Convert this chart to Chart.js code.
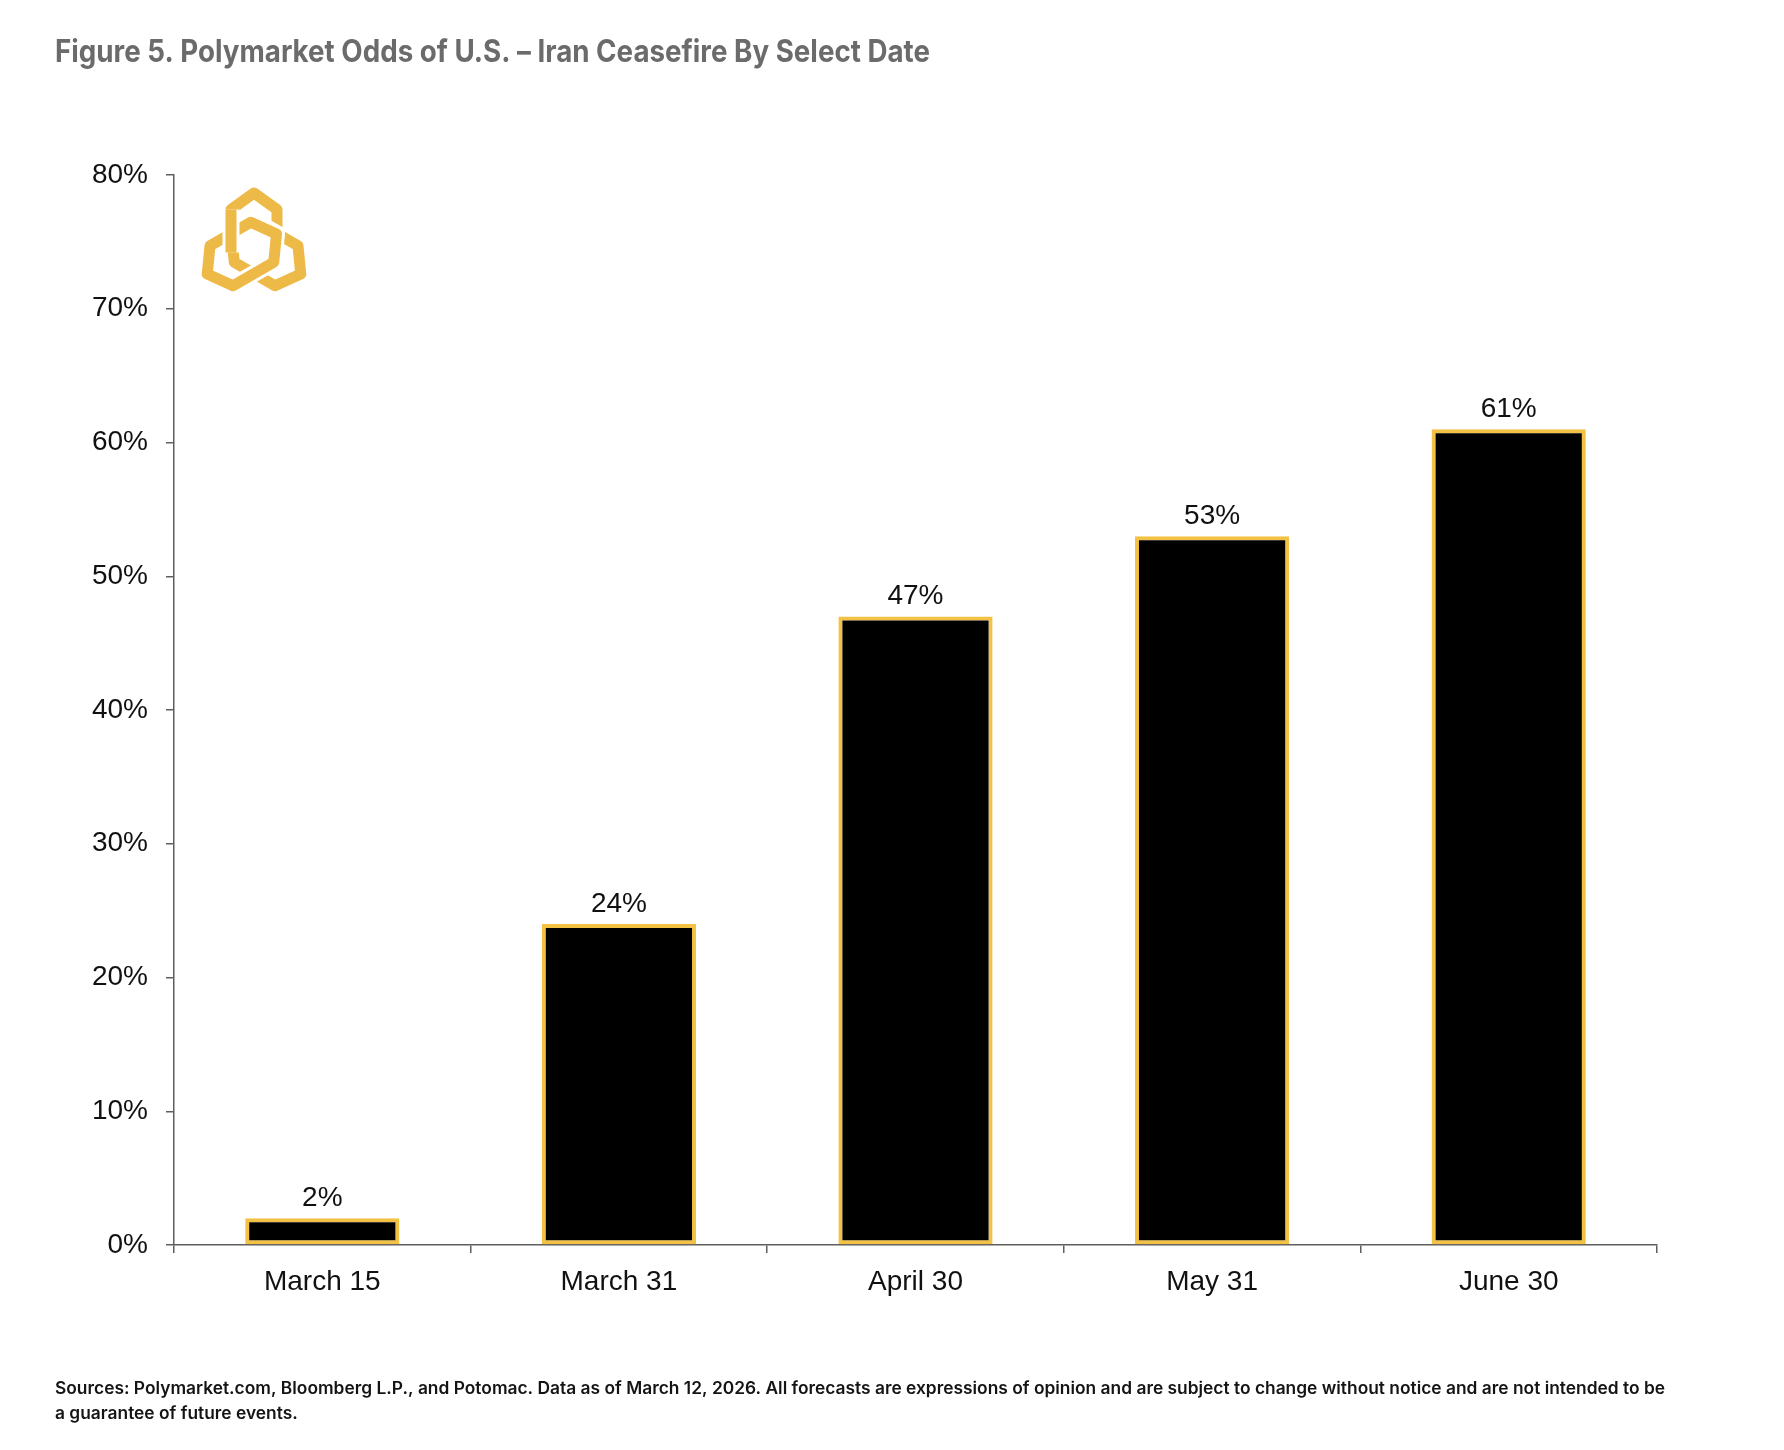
<!DOCTYPE html>
<html>
<head>
<meta charset="utf-8">
<script src="https://cdn.jsdelivr.net/npm/chart.js@4/dist/chart.umd.min.js"></script>
<style>
  html, body { margin: 0; padding: 0; background: #fff; }
  #wrap { position: relative; width: 1784px; height: 1450px; }
</style>
</head>
<body>
<div id="wrap"><canvas id="myChart" width="1784" height="1450"></canvas></div>
<script>
// data
const dates = ['March 15', 'March 31', 'April 30', 'May 31', 'June 30'];
const odds = [2, 24, 47, 53, 61];
const yTicks = [0, 10, 20, 30, 40, 50, 60, 70, 80];

const title = 'Figure 5. Polymarket Odds of U.S. \u2013 Iran Ceasefire By Select Date';
const footer1 = 'Sources: Polymarket.com, Bloomberg L.P., and Potomac. Data as of March 12, 2026. All forecasts are expressions of opinion and are subject to change without notice and are not intended to be';
const footer2 = 'a guarantee of future events.';

const gold = '#F3C143';
const logoGold = '#EDB947';
const axisGrey = '#5f5f5f';

// title, footer and logo
const extras = {
  id: 'extras',
  afterDraw(chart) {
    const ctx = chart.ctx;
    ctx.save();
    // title
    ctx.fillStyle = '#6b6b6b';
    ctx.font = '700 31px Inter';
    ctx.textBaseline = 'alphabetic';
    let w = ctx.measureText(title).width;
    let sx = 875 / w;
    ctx.save();
    ctx.translate(55, 62);
    ctx.scale(sx, 1);
    ctx.fillText(title, 0, 0);
    ctx.restore();

    // footer
    ctx.fillStyle = '#141414';
    ctx.font = '600 17px Inter';
    w = ctx.measureText(footer1).width;
    sx = 1610 / w;
    ctx.save();
    ctx.translate(55, 1394);
    ctx.scale(sx, 1);
    ctx.fillText(footer1, 0, 0);
    ctx.fillText(footer2, 0, 25);
    ctx.restore();

    // logo: three elongated hexagons rotated around a centre
    const cx = 254, cy = 247, d = 14, L = 40, W = 23, s = 16.5;
    const hex = () => {
      ctx.beginPath();
      ctx.moveTo(0, -d - L);
      ctx.lineTo(W, -d - L + s);
      ctx.lineTo(W, -d + L - s);
      ctx.lineTo(0, -d + L);
      ctx.lineTo(-W, -d + L - s);
      ctx.lineTo(-W, -d - L + s);
      ctx.closePath();
    };
    ctx.lineJoin = 'round';
    for (let k = 0; k < 3; k++) {
      ctx.save();
      ctx.translate(cx, cy);
      ctx.rotate(k * 2 * Math.PI / 3);
      hex();
      ctx.strokeStyle = '#fff';
      ctx.lineWidth = 17;
      ctx.stroke();
      ctx.strokeStyle = logoGold;
      ctx.lineWidth = 11;
      ctx.stroke();
      ctx.restore();
    }
    // weave: bring the left arm of the first shape back on top
    ctx.save();
    ctx.translate(cx, cy);
    ctx.beginPath();
    ctx.moveTo(-W, -d - L + s);
    ctx.lineTo(-W, -d + L - s - 4);
    ctx.strokeStyle = '#fff';
    ctx.lineWidth = 17;
    ctx.lineCap = 'butt';
    ctx.stroke();
    ctx.strokeStyle = logoGold;
    ctx.lineWidth = 11;
    ctx.stroke();
    ctx.restore();

    ctx.restore();
  }
};

// value labels above the bars
const barLabels = {
  id: 'barLabels',
  afterDatasetsDraw(chart) {
    const ctx = chart.ctx;
    const meta = chart.getDatasetMeta(0);
    ctx.save();
    ctx.fillStyle = '#111';
    ctx.font = '28px "Liberation Sans", Arial';
    ctx.textAlign = 'center';
    ctx.textBaseline = 'alphabetic';
    meta.data.forEach((bar, i) => {
      ctx.fillText(odds[i] + '%', bar.x, bar.y - 12);
    });
    ctx.restore();
  }
};

const data = {
  labels: dates,
  datasets: [{
    data: odds,
    backgroundColor: '#000',
    borderColor: gold,
    borderWidth: 4,
    borderSkipped: false,
    barPercentage: 0.52,
    categoryPercentage: 1
  }]
};

const config = {
  type: 'bar',
  data: data,
  options: {
    responsive: false,
    animation: false,
    layout: { padding: { left: 0, right: 127, top: 175, bottom: 0 } },
    plugins: {
      legend: { display: false },
      tooltip: { enabled: false }
    },
    scales: {
      y: {
        min: 0,
        max: 80,
        afterFit: (scale) => { scale.width = 174; },
        afterBuildTicks: (scale) => { scale.ticks = yTicks.map(v => ({ value: v })); },
        ticks: {
          callback: (v) => v + '%',
          color: '#111',
          padding: 18,
          font: { family: '"Liberation Sans", Arial', size: 28 }
        },
        grid: {
          drawOnChartArea: false,
          tickLength: 8,
          color: axisGrey,
          lineWidth: 1.5
        },
        border: { display: true, color: axisGrey, width: 1.5 }
      },
      x: {
        afterFit: (scale) => { scale.height = 205; },
        ticks: {
          color: '#111',
          padding: 12,
          maxRotation: 0,
          autoSkip: false,
          font: { family: '"Liberation Sans", Arial', size: 28 }
        },
        grid: {
          offset: true,
          drawOnChartArea: false,
          tickLength: 8,
          color: axisGrey,
          lineWidth: 1.5
        },
        border: { display: true, color: axisGrey, width: 1.5 }
      }
    }
  },
  plugins: [barLabels, extras]
};

const myChart = new Chart(document.getElementById('myChart'), config);
</script>
</body>
</html>
